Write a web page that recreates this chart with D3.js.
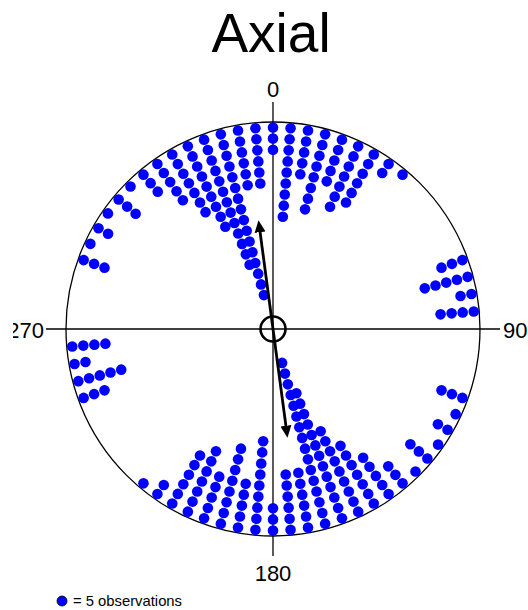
<!DOCTYPE html>
<html>
<head>
<meta charset="utf-8">
<script src="https://cdn.jsdelivr.net/npm/d3@7"></script>
<style>
  body { margin: 0; background: #fff; }
  svg { display: block; }
  text { font-family: "Liberation Sans", Arial, sans-serif; fill: #000; }
</style>
</head>
<body>
<svg id="chart" width="528" height="610"></svg>
<script>
// Direction bins in degrees (clockwise from north) for one half of the circle.
const binAngles = [0, 5, 10, 15, 20, 25, 30, 35, 40, 45, 50, 55, 60, 65, 70, 75, 80, 85,
                   90, 95, 100, 105, 110, 115, 120, 125, 130, 135, 140, 145, 150, 155, 160, 165, 170, 175];
// Dots stacked in each bin (one dot = 5 observations).
const dotCounts = [3, 9, 5, 8, 5, 7, 6, 2, 1, 0, 0, 0, 0, 0, 3, 5, 2, 4,
                   0, 0, 0, 0, 3, 1, 2, 1, 3, 1, 3, 5, 7, 9, 13, 16, 6, 6];
// Axial data: every direction is also shown at its antipode.
const antipodeShift = [0, 180];

const axisAngles = [0, 90, 180, 270];
const axisLabels = ["0", "90", "180", "270"];

// Mean axis (degrees) and mean resultant length.
const meanAxis = 352.4;
const meanResultant = 0.53;

const titleText = "Axial";
const legendText = "= 5 observations";

// ---- layout ----
const cx = 273, cy = 329, R = 207;
const dotR = 5.3;
const firstDot = 0.9735;   // radial position of the outermost dot (unit circle)
const dotStep = 0.0536;    // radial spacing between stacked dots
const tickOut = 20;        // axis line overshoot beyond the circle

const svg = d3.select("#chart");

const angle = d3.scaleLinear().domain([0, 360]).range([0, 2 * Math.PI]);
const radius = d3.scaleLinear().domain([0, 1]).range([0, R]);
const px = (deg, r) => cx + r * Math.sin(angle(deg));
const py = (deg, r) => cy - r * Math.cos(angle(deg));

// Figure region: text falling left of it is cut off
svg.append("defs").append("clipPath")
  .attr("id", "figureRegion")
  .append("rect")
  .attr("x", 13).attr("y", 0).attr("width", 515).attr("height", 610);

// Title
svg.append("text")
  .attr("x", 271).attr("y", 52)
  .attr("text-anchor", "middle")
  .attr("font-size", 55)
  .text(titleText);

// Cross-hair axes
const axes = svg.append("g").attr("stroke", "#000").attr("stroke-width", 1.3);
axes.append("line")
  .attr("x1", px(270, R + tickOut)).attr("y1", py(270, R + tickOut))
  .attr("x2", px(90, R + tickOut)).attr("y2", py(90, R + tickOut));
axes.append("line")
  .attr("x1", px(0, R + tickOut)).attr("y1", py(0, R + tickOut))
  .attr("x2", px(180, R + tickOut)).attr("y2", py(180, R + tickOut));

// Outer circle
svg.append("circle")
  .attr("cx", cx).attr("cy", cy).attr("r", radius(1))
  .attr("fill", "none").attr("stroke", "#000").attr("stroke-width", 1.3);

// Axis labels
const labelPos = {
  0:   { dx: 0,   dy: -232, anchor: "middle" },
  90:  { dx: 230, dy: 9,    anchor: "start" },
  180: { dx: 0,   dy: 252,  anchor: "middle" },
  270: { dx: -229, dy: 9,   anchor: "end" }
};
svg.append("g")
  .attr("clip-path", "url(#figureRegion)")
  .selectAll("text")
  .data(axisAngles)
  .join("text")
  .attr("x", d => cx + labelPos[d].dx)
  .attr("y", d => cy + labelPos[d].dy)
  .attr("text-anchor", d => labelPos[d].anchor)
  .attr("font-size", 22)
  .text((d, i) => axisLabels[i]);

// Stacked dots
const dots = [];
binAngles.forEach((a, i) => {
  antipodeShift.forEach(s => {
    for (let k = 0; k < dotCounts[i]; k++) {
      dots.push({ deg: a + s, r: radius(firstDot - k * dotStep) });
    }
  });
});
svg.append("g").selectAll("circle")
  .data(dots)
  .join("circle")
  .attr("cx", d => px(d.deg, d.r))
  .attr("cy", d => py(d.deg, d.r))
  .attr("r", dotR)
  .attr("fill", "#0000ff");

// Mean axis arrows
svg.select("defs").append("marker")
  .attr("id", "head")
  .attr("viewBox", "0 -6 12 12")
  .attr("refX", 2).attr("refY", 0)
  .attr("markerUnits", "userSpaceOnUse")
  .attr("markerWidth", 12).attr("markerHeight", 12)
  .attr("orient", "auto")
  .append("path")
  .attr("d", "M0,-5.5L12,0L0,5.5Z")
  .attr("fill", "#000");

const arrowLen = radius(meanResultant) - 10;
svg.append("g").selectAll("line")
  .data([meanAxis, meanAxis + 180])
  .join("line")
  .attr("x1", cx).attr("y1", cy)
  .attr("x2", d => px(d, arrowLen))
  .attr("y2", d => py(d, arrowLen))
  .attr("stroke", "#000").attr("stroke-width", 2.8)
  .attr("marker-end", "url(#head)");

// Centre ring
svg.append("circle")
  .attr("cx", cx).attr("cy", cy).attr("r", 12.5)
  .attr("fill", "none").attr("stroke", "#000").attr("stroke-width", 2.6);

// Legend
svg.append("circle")
  .attr("cx", 62).attr("cy", 601).attr("r", 5)
  .attr("fill", "#0000ff").attr("stroke", "#000").attr("stroke-width", 0.8);
svg.append("text")
  .attr("x", 73).attr("y", 606)
  .attr("font-size", 14.8)
  .text(legendText);
</script>
</body>
</html>
